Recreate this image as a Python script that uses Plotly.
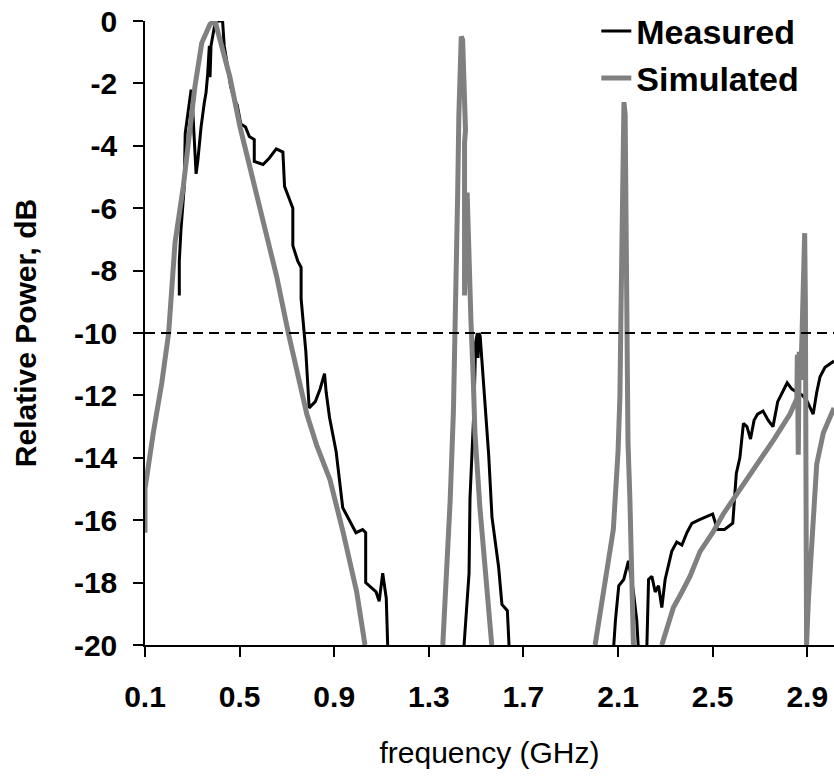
import plotly.graph_objects as go

# ---------------- data ----------------
meas_f = [0.245, 0.245, 0.252, 0.266, 0.27, 0.283, 0.295, 0.300, 0.309, 0.316, 0.323, 0.337, 0.351, 0.358,
          0.365, 0.372, 0.375, 0.379, 0.393, 0.407, 0.428, 0.435, 0.45, 0.462, 0.477, 0.49, 0.505, 0.525,
          0.541, 0.562, 0.562, 0.599, 0.625, 0.655, 0.683, 0.69, 0.705, 0.725, 0.725, 0.746, 0.76, 0.76,
          0.773, 0.78, 0.794, 0.82, 0.84, 0.859, 0.866, 0.88, 0.908, 0.936, 0.964, 0.992, 1.02, 1.033,
          1.033, 1.077, 1.09, 1.105, 1.12, 1.126, None,
          1.449, 1.47, 1.474, 1.481, 1.491, 1.498, 1.505, 1.508, 1.512, 1.517, 1.525, 1.54, 1.553, 1.567,
          1.595, 1.609, 1.632, 1.639, None,
          2.082, 2.089, 2.103, 2.124, 2.144, 2.165, 2.179, 2.185, None,
          2.222, 2.229, 2.243, 2.257, 2.271, 2.285, 2.299, 2.327, 2.348, 2.37, 2.391, 2.412, 2.44, 2.47,
          2.50, 2.52, 2.55, 2.585, 2.60, 2.615, 2.63, 2.645, 2.66, 2.675, 2.69, 2.713, 2.735, 2.755, 2.775,
          2.795, 2.815, 2.835, 2.857, 2.88, 2.90, 2.925, 2.94, 2.954, 2.975, 3.013]
meas_db = [-8.8, -7.7, -6.7, -5.3, -3.6, -2.8, -2.2, -2.6, -3.8, -4.9, -4.5, -3.4, -2.6, -2.3,
           -1.7, -0.8, -1.8, -0.8, -0.2, 0.0, 0.0, -0.8, -1.5, -2.1, -2.5, -2.7, -3.3, -3.4,
           -3.7, -3.8, -4.5, -4.6, -4.4, -4.1, -4.2, -5.3, -5.6, -6.0, -7.2, -7.7, -7.9, -8.9,
           -10.0, -10.6, -12.4, -12.2, -11.8, -11.3, -11.9, -12.7, -13.8, -15.6, -16.0, -16.4, -16.3, -16.4,
           -18.0, -18.3, -18.6, -17.7, -18.5, -20.0, None,
           -20.0, -17.7, -15.3, -14.2, -12.4, -10.3, -10.0, -10.8, -10.0, -10.1, -11.0, -12.5, -13.9, -15.9,
           -17.5, -18.7, -18.9, -20.0, None,
           -20.0, -19.2, -18.1, -17.9, -17.3, -18.3, -19.2, -20.0, None,
           -20.0, -17.9, -17.8, -18.3, -18.1, -18.8, -17.9, -17.0, -16.7, -16.8, -16.4, -16.1, -16.0, -15.9,
           -15.8, -16.3, -16.3, -16.1, -14.5, -14.0, -12.9, -13.0, -13.4, -12.8, -12.6, -12.5, -12.8, -13.0, -12.2,
           -11.9, -11.6, -11.8, -11.9, -12.0, -12.2, -12.6, -11.9, -11.4, -11.1, -10.9]

sim_f = [0.1, 0.1, 0.135, 0.171, 0.2, 0.227, 0.262, 0.311, 0.34, 0.375, 0.396, 0.43, 0.459, 0.502, 0.544,
         0.6, 0.657, 0.706, 0.784, 0.826, 0.882, 0.938, 0.995, 1.03, None,
         1.359, 1.39, 1.404, 1.412, 1.418, 1.422, 1.427, 1.432, 1.437, 1.443, 1.452, 1.455, 1.451, 1.451,
         1.456, 1.462, 1.465, 1.47, 1.478, 1.488, 1.495, 1.516, 1.545, 1.566, None,
         2.003, 2.038, 2.08, 2.1, 2.108, 2.112, 2.116, 2.12, 2.125, 2.13, 2.133, 2.137, 2.142, 2.15, 2.165, None,
         2.285, 2.31, 2.334, 2.37, 2.404, 2.447, 2.5, 2.545, 2.6, 2.686, 2.76, 2.827, 2.856, 2.858, 2.862,
         2.866, 2.872, 2.878, 2.884, 2.889, 2.892, 2.894, 2.897, 2.905, 2.925, 2.94, 2.968, 3.013]
sim_db = [-16.4, -15.0, -13.2, -11.6, -10.0, -7.1, -5.3, -2.1, -0.7, -0.1, 0.0, -0.9, -1.8, -3.4, -4.7,
          -6.4, -8.2, -10.0, -12.6, -13.6, -14.7, -16.4, -18.3, -20.0, None,
          -20.0, -15.4, -12.5, -10.0, -7.5, -5.5, -3.0, -1.0, -0.5, -0.6, -2.8, -3.5, -3.9, -8.8,
          -6.5, -5.5, -6.5, -8.0, -9.6, -11.5, -13.2, -15.6, -18.0, -20.0, None,
          -20.0, -18.4, -16.3, -13.8, -12.0, -9.5, -6.0, -4.0, -2.6, -3.0, -6.0, -10.0, -13.5, -15.3, -20.0, None,
          -20.0, -19.4, -18.8, -18.3, -17.8, -17.0, -16.4, -15.8, -15.2, -14.2, -13.4, -12.6, -12.1, -10.7, -13.9,
          -10.6, -11.5, -10.0, -7.5, -6.8, -9.0, -14.0, -20.0, -18.5, -16.2, -14.2, -13.2, -12.4]

threshold_db = -10
x_tickvals = [0.1, 0.5, 0.9, 1.3, 1.7, 2.1, 2.5, 2.9]
x_ticktext = ["0.1", "0.5", "0.9", "1.3", "1.7", "2.1", "2.5", "2.9"]
y_tickvals = [0, -2, -4, -6, -8, -10, -12, -14, -16, -18, -20]
y_ticktext = ["0", "-2", "-4", "-6", "-8", "-10", "-12", "-14", "-16", "-18", "-20"]

FONT = "Liberation Sans, Arial, sans-serif"

fig = go.Figure()
fig.add_trace(go.Scatter(x=meas_f, y=meas_db, mode="lines", name="Measured",
                         line=dict(color="#000000", width=3), connectgaps=False))
fig.add_trace(go.Scatter(x=sim_f, y=sim_db, mode="lines", name="Simulated",
                         line=dict(color="#808080", width=5), connectgaps=False))

fig.add_shape(type="line", xref="paper", x0=0, x1=1, yref="y", y0=threshold_db, y1=threshold_db,
              line=dict(color="#000000", width=2, dash="10px,6px"))

fig.update_layout(
    width=834, height=778,
    margin=dict(l=145, r=0, t=21, b=133),
    paper_bgcolor="white", plot_bgcolor="white",
    font=dict(family=FONT, color="#000000"),
    showlegend=True,
    legend=dict(x=0.655, y=1.03, xanchor="left", yanchor="top",
                font=dict(family=FONT, size=34, weight="bold"),
                bgcolor="rgba(0,0,0,0)", tracegroupgap=0, itemwidth=30),
    xaxis=dict(range=[0.1, 3.013], tickmode="array", tickvals=x_tickvals, ticktext=x_ticktext,
               showgrid=False, zeroline=False, showline=True, linecolor="#000000", linewidth=1.5,
               ticks="outside", ticklen=10, tickwidth=1.5, tickcolor="#000000",
               ticklabelstandoff=14,
               tickfont=dict(family=FONT, size=30, weight="bold"),
               title=dict(text="frequency (GHz)", font=dict(family=FONT, size=30), standoff=30)),
    yaxis=dict(range=[-20, 0], tickmode="array", tickvals=y_tickvals, ticktext=y_ticktext,
               showgrid=False, zeroline=False, showline=True, linecolor="#000000", linewidth=1.5,
               ticks="outside", ticklen=10, tickwidth=1.5, tickcolor="#000000",
               ticklabelstandoff=10,
               tickfont=dict(family=FONT, size=30, weight="bold"),
               title=dict(text="Relative Power, dB", font=dict(family=FONT, size=30, weight="bold"),
                          standoff=28)),
)

fig.write_html("out.html")
